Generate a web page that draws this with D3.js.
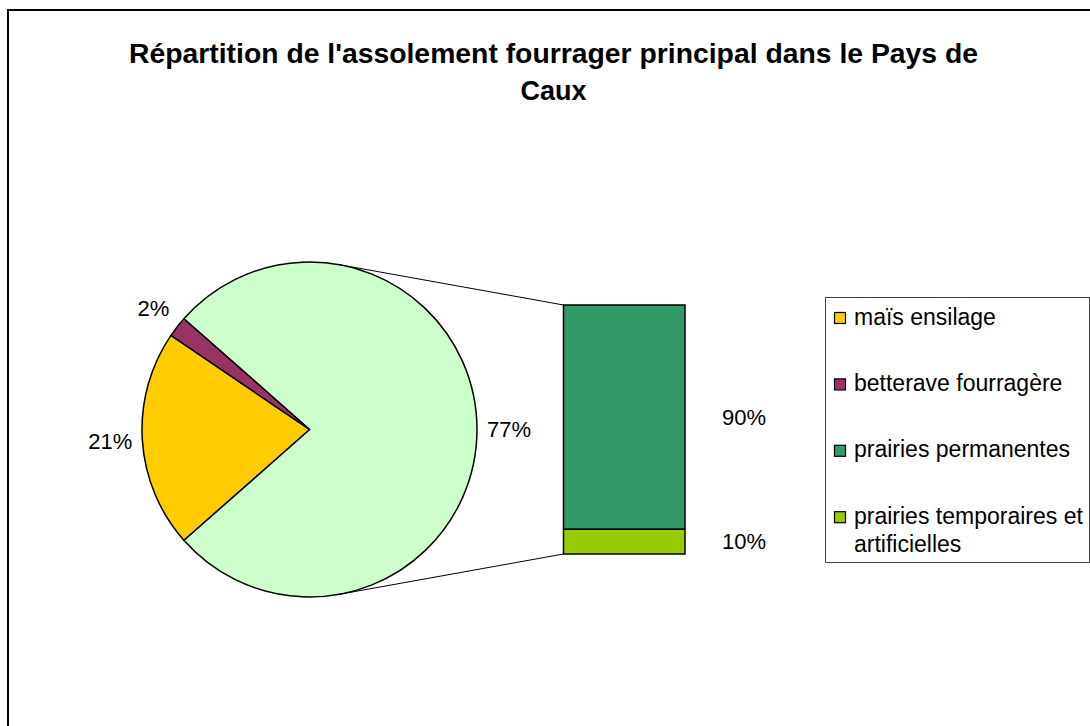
<!DOCTYPE html>
<html>
<head>
<meta charset="utf-8">
<script src="https://cdn.jsdelivr.net/npm/d3@7"></script>
<style>
  html, body { margin: 0; padding: 0; background: #fff; }
  svg { display: block; }
  text { font-family: "Liberation Sans", Arial, Helvetica, sans-serif; fill: #000; }
</style>
</head>
<body>
<svg id="chart" width="1090" height="726"></svg>
<script>
// ---- data ----
const titleLines = ["Répartition de l'assolement fourrager principal dans le Pays de", "Caux"];
const pieCategories = ["autres", "maïs ensilage", "betterave fourragère"];
const pieValues = [77, 21, 2];
const pieLabels = ["77%", "21%", "2%"];
const barCategories = ["prairies temporaires et artificielles", "prairies permanentes"];
const barValues = [10, 90];
const barLabels = ["10%", "90%"];
const legendLabels = [["maïs ensilage"], ["betterave fourragère"], ["prairies permanentes"], ["prairies temporaires et", "artificielles"]];

// ---- styles ----
const colors = {
  "autres": "#CCFFCC",
  "maïs ensilage": "#FFCC00",
  "betterave fourragère": "#993366",
  "prairies permanentes": "#339966",
  "prairies temporaires et artificielles": "#99CC00"
};
const legendColors = ["#FFCC00", "#993366", "#339966", "#99CC00"];

const svg = d3.select("#chart");

// frame
svg.append("rect").attr("x", 8).attr("y", 10).attr("width", 1120).attr("height", 820)
  .attr("fill", "#fff").attr("stroke", "#000").attr("stroke-width", 2);

// title
const title = svg.append("text").attr("text-anchor", "middle")
  .attr("font-weight", "bold").attr("font-size", 27);
titleLines.forEach((t, i) => {
  const ts = title.append("tspan").attr("x", 553.5).attr("y", 63 + i * 37).text(t);
  if (i === 0) ts.attr("textLength", 849).attr("lengthAdjust", "spacingAndGlyphs");
});

// ---- pie ----
const cx = 309.5, cy = 429.5, r = 167.5;
const total = d3.sum(pieValues);
const start = Math.PI / 2 - (pieValues[0] / total) * Math.PI;
const pie = d3.pie().sort(null).value(d => d).startAngle(start).endAngle(start + 2 * Math.PI);
const arcs = pie(pieValues);
const arc = d3.arc().innerRadius(0).outerRadius(r);

const gPie = svg.append("g").attr("transform", `translate(${cx},${cy})`);
gPie.selectAll("path").data(arcs).join("path")
  .attr("d", arc)
  .attr("fill", (d, i) => colors[pieCategories[i]])
  .attr("stroke", "#000").attr("stroke-width", 1.5).attr("stroke-linejoin", "round");

// pie labels
const labelFont = 22;
arcs.forEach((a, i) => {
  const mid = (a.startAngle + a.endAngle) / 2;
  const sx = Math.sin(mid), sy = -Math.cos(mid); // screen coords
  const R = r + 10;
  const px = cx + R * sx, py = cy + R * sy;
  const anchor = Math.abs(sx) < 0.2 ? "middle" : (sx > 0 ? "start" : "end");
  const h = labelFont * 0.95;
  const centerY = py + sy * h * 0.5 + (sy < 0 ? sy * h * 0.5 : 0);
  svg.append("text").attr("x", px).attr("y", centerY)
    .attr("dy", "0.36em").attr("text-anchor", anchor)
    .attr("font-size", labelFont).text(pieLabels[i]);
});

// ---- bar ----
const barX = 563.5, barW = 121.5;
const y = d3.scaleLinear().domain([0, d3.sum(barValues)]).range([554, 305]);
let cum = 0;
const segs = barValues.map((v, i) => { const s = { y0: cum, y1: cum + v, i }; cum += v; return s; });

// connector lines (tangent from bar left corners to circle)
function tangentPoint(qx, qy, upper) {
  const dx = qx - cx, dy = qy - cy;
  const d = Math.hypot(dx, dy);
  const base = Math.atan2(dy, dx);
  const off = Math.acos(r / d);
  const ang = upper ? base - off : base + off;
  return [cx + r * Math.cos(ang), cy + r * Math.sin(ang)];
}
const topY = y(d3.sum(barValues)), botY = y(0);
const tTop = tangentPoint(barX, topY, true);
const tBot = tangentPoint(barX, botY, false);
svg.append("line").attr("x1", tTop[0]).attr("y1", tTop[1]).attr("x2", barX).attr("y2", topY)
  .attr("stroke", "#000").attr("stroke-width", 1);
svg.append("line").attr("x1", tBot[0]).attr("y1", tBot[1]).attr("x2", barX).attr("y2", botY)
  .attr("stroke", "#000").attr("stroke-width", 1);

svg.selectAll("rect.seg").data(segs).join("rect").attr("class", "seg")
  .attr("x", barX).attr("width", barW)
  .attr("y", d => y(d.y1)).attr("height", d => y(d.y0) - y(d.y1))
  .attr("fill", d => colors[barCategories[d.i]])
  .attr("stroke", "#000").attr("stroke-width", 1.5);

svg.selectAll("text.barlab").data(segs).join("text").attr("class", "barlab")
  .attr("x", barX + barW + 37).attr("y", d => (y(d.y0) + y(d.y1)) / 2)
  .attr("dy", "0.36em").attr("font-size", labelFont)
  .text(d => barLabels[d.i]);

// ---- legend ----
const lg = svg.append("g");
lg.append("rect").attr("x", 825.5).attr("y", 297.5).attr("width", 264).attr("height", 265)
  .attr("fill", "#fff").attr("stroke", "#444").attr("stroke-width", 1);
const rowY = d3.scaleLinear().domain([0, 1]).range([318, 384.4]);
legendLabels.forEach((lines, i) => {
  const cyRow = rowY(i);
  lg.append("rect").attr("x", 834.5).attr("y", cyRow - 5.5).attr("width", 11).attr("height", 11)
    .attr("fill", legendColors[i]).attr("stroke", "#000").attr("stroke-width", 1.2);
  const t = lg.append("text").attr("font-size", 23);
  lines.forEach((ln, j) => {
    t.append("tspan").attr("x", 854).attr("y", cyRow + 6.5 + j * 28.7).text(ln);
  });
});
</script>
</body>
</html>
